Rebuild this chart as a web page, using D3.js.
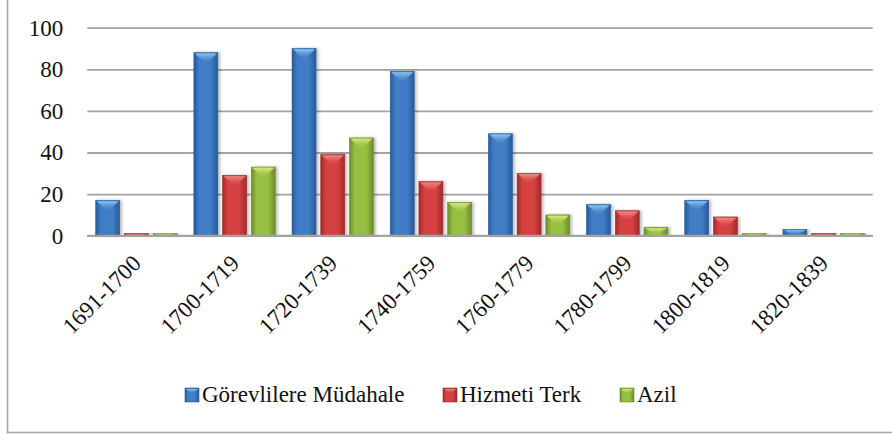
<!DOCTYPE html>
<html>
<head>
<meta charset="utf-8">
<script src="https://cdn.jsdelivr.net/npm/d3@7/dist/d3.min.js"></script>
<style>
  body { margin: 0; background: #fff; }
  svg { display: block; }
  svg text { font-family: "Liberation Serif", "DejaVu Serif", "Times New Roman", serif !important; fill: #111; }
</style>
</head>
<body>
<svg width="892" height="436"></svg>
<script>
/* --------------------------------------------------------------- */
/* ----------------------------- Data ---------------------------- */
var categories = ['1691-1700', '1700-1719', '1720-1739', '1740-1759',
                  '1760-1779', '1780-1799', '1800-1819', '1820-1839'];
var series_names = ['Görevlilere Müdahale', 'Hizmeti Terk', 'Azil'];
var mudahale = [17, 88, 90, 79, 49, 15, 17, 3];
var terk     = [1, 29, 39, 26, 30, 12, 9, 1];
var azil     = [1, 33, 47, 16, 10, 4, 1, 1];
var y_ticks  = [0, 20, 40, 60, 80, 100];

/* --------------------------------------------------------------- */
/* --------------------------- Config ---------------------------- */
var config = {
  left : 87.3,
  right : 872.7,
  top : 27.7,
  bottom : 235.7,
  grid_color : '#a3a3a3',
  font_size : 23
};

var palette = [
  { id : 'blue',  edge : '#285a9a', mid : '#3f7dc6', tip : '#8cc8f2' },
  { id : 'red',   edge : '#a02a2c', mid : '#d6413f', tip : '#f08a86' },
  { id : 'green', edge : '#6c8c2a', mid : '#97bf42', tip : '#dbe87e' }
];

var svg = d3.select('svg');

// frame (only left and bottom edges are visible in the picture)
svg.append('rect')
  .attr('x', 7.5).attr('y', -10)
  .attr('width', 920).attr('height', 442.5)
  .attr('fill', 'none')
  .attr('stroke', '#a6a6a6')
  .attr('stroke-width', 1.6);

/* --------------------------------------------------------------- */
/* ------------------------- Gradients --------------------------- */
var defs = svg.append('defs');

palette.forEach(function (p) {
  var g = defs.append('linearGradient').attr('id', 'grad_' + p.id)
    .attr('x1', 0).attr('x2', 1).attr('y1', 0).attr('y2', 0);
  g.append('stop').attr('offset', '0%').attr('stop-color', p.edge);
  g.append('stop').attr('offset', '22%').attr('stop-color', p.mid);
  g.append('stop').attr('offset', '70%').attr('stop-color', p.mid);
  g.append('stop').attr('offset', '100%').attr('stop-color', p.edge);

  var t = defs.append('linearGradient').attr('id', 'tip_' + p.id)
    .attr('x1', 0).attr('x2', 0).attr('y1', 0).attr('y2', 1);
  t.append('stop').attr('offset', '0%').attr('stop-color', p.tip);
  t.append('stop').attr('offset', '100%').attr('stop-color', p.mid).attr('stop-opacity', 0.2);
});

var shadow = defs.append('filter').attr('id', 'shadow')
  .attr('x', '-20%').attr('y', '-5%').attr('width', '160%').attr('height', '110%');
shadow.append('feDropShadow')
  .attr('dx', 2).attr('dy', 0)
  .attr('stdDeviation', 1.6)
  .attr('flood-color', '#000')
  .attr('flood-opacity', 0.28);

/* --------------------------------------------------------------- */
/* --------------------------- Scales ---------------------------- */
var x0 = d3.scaleBand()
  .domain(categories)
  .range([config.left, config.right])
  .padding(0);

var x1 = d3.scaleBand()
  .domain(series_names)
  .range([0, x0.bandwidth()])
  .paddingInner(0.165)
  .paddingOuter(0.293);

var yScale = d3.scaleLinear()
  .domain([0, 100])
  .range([config.bottom, config.top]);

/* --------------------------------------------------------------- */
/* ---------------------------- Axes ----------------------------- */
var yAxis = d3.axisLeft(yScale)
  .tickValues(y_ticks)
  .tickSize(-(config.right - config.left))
  .tickPadding(24);

var gy = svg.append('g')
  .attr('transform', 'translate(' + config.left + ',0)')
  .call(yAxis)
  .attr('font-family', null);
gy.select('.domain').remove();
gy.selectAll('.tick line')
  .attr('stroke', config.grid_color)
  .attr('stroke-width', 1.8);
gy.selectAll('.tick text')
  .attr('font-size', config.font_size)
  .attr('fill', '#111');

var xAxis = d3.axisBottom(x0).tickSize(0).tickPadding(0);
var gx = svg.append('g')
  .attr('transform', 'translate(0,' + config.bottom + ')')
  .call(xAxis)
  .attr('font-family', null);
gx.select('.domain').remove();
gx.selectAll('.tick text')
  .attr('font-size', config.font_size)
  .attr('fill', '#111')
  .attr('text-anchor', 'end')
  .attr('dy', 0)
  .attr('transform', 'translate(6,29) rotate(-45)');

/* --------------------------------------------------------------- */
/* ---------------------------- Bars ----------------------------- */
var all_series = [mudahale, terk, azil];

var rows = categories.map(function (c, i) {
  return series_names.map(function (s, k) {
    return { cat : c, name : s, value : all_series[k][i], p : palette[k] };
  });
});

var groups = svg.selectAll('g.group')
  .data(rows)
  .enter().append('g')
  .attr('class', 'group')
  .attr('transform', function (d, i) { return 'translate(' + x0(categories[i]) + ',0)'; });

var bars = groups.selectAll('g.bar')
  .data(function (d) { return d; })
  .enter().append('g')
  .attr('class', 'bar');

bars.append('rect')
  .attr('x', function (d) { return x1(d.name); })
  .attr('y', function (d) { return yScale(d.value); })
  .attr('width', x1.bandwidth())
  .attr('height', function (d) { return yScale(0) - yScale(d.value); })
  .attr('fill', function (d) { return 'url(#grad_' + d.p.id + ')'; })
  .attr('stroke', function (d) { return d.p.edge; })
  .attr('stroke-width', 0.6)
  .attr('filter', 'url(#shadow)');

// top chevron highlight
bars.append('path')
  .attr('d', function (d) {
    var x = x1(d.name), w = x1.bandwidth(), y = yScale(d.value);
    var h = Math.min(11, (yScale(0) - y) * 0.9);
    return 'M' + (x + 1) + ',' + (y + 0.8) + 'L' + (x + w - 1) + ',' + (y + 0.8) +
           'L' + (x + w / 2) + ',' + (y + h) + 'Z';
  })
  .attr('fill', function (d) { return 'url(#tip_' + d.p.id + ')'; });

// baseline over bars
svg.append('line')
  .attr('x1', config.left).attr('x2', config.right)
  .attr('y1', yScale(0)).attr('y2', yScale(0))
  .attr('stroke', config.grid_color)
  .attr('stroke-width', 2);

/* --------------------------------------------------------------- */
/* --------------------------- Legend ---------------------------- */
var legend_x = [185, 443, 620];
var legend = svg.selectAll('g.legend')
  .data(series_names)
  .enter().append('g')
  .attr('class', 'legend')
  .attr('transform', function (d, i) { return 'translate(' + legend_x[i] + ',388)'; });

legend.append('rect')
  .attr('width', 14).attr('height', 14)
  .attr('fill', function (d, i) { return 'url(#grad_' + palette[i].id + ')'; })
  .attr('stroke', function (d, i) { return palette[i].edge; })
  .attr('stroke-width', 0.6);
legend.append('path')
  .attr('d', 'M1,1L13,1L7,6Z')
  .attr('fill', function (d, i) { return 'url(#tip_' + palette[i].id + ')'; });
legend.append('text')
  .attr('x', 17).attr('y', 14)
  .attr('font-size', config.font_size)
  .text(function (d) { return d; });
</script>
</body>
</html>
